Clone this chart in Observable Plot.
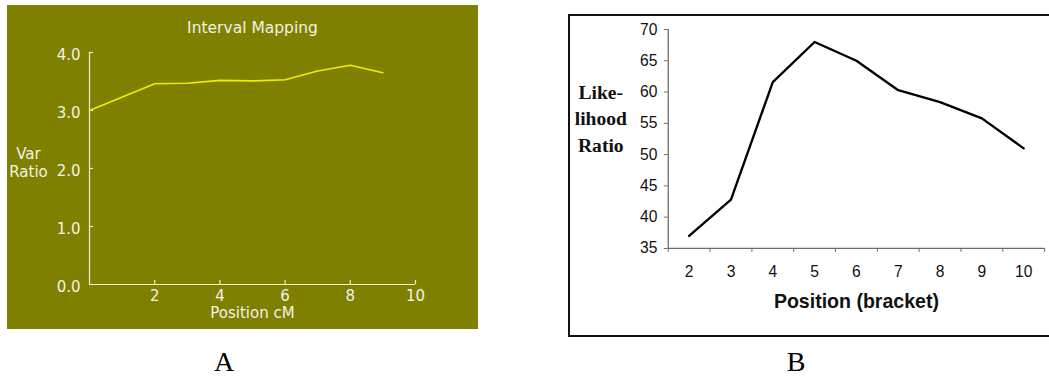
<!DOCTYPE html>
<html>
<head>
<meta charset="utf-8">
<script src="https://cdn.jsdelivr.net/npm/d3@7"></script>
<script src="https://cdn.jsdelivr.net/npm/@observablehq/plot@0.6"></script>
<style>
  html, body { margin: 0; padding: 0; background: #fff; }
  #root { position: relative; width: 1049px; height: 379px; overflow: hidden; background: #fff; }
  #panelA { position: absolute; left: 7px; top: 5px; width: 471px; height: 324px; background: #808000; }
  #panelA svg { position: absolute; left: 0; top: 0; }
  #boxB { position: absolute; left: 568px; top: 14px; width: 600px; height: 323px; border: 2px solid #111; box-sizing: border-box; }
  #plotB { position: absolute; left: 570px; top: 16px; }
  .lab { position: absolute; font-family: "Liberation Serif", "DejaVu Serif", serif; font-size: 28px; color: #000; line-height: 1.1; transform: translateX(-50%); }
</style>
</head>
<body>
<div id="root">
  <div id="panelA"></div>
  <div id="boxB"></div>
  <div id="plotB"></div>
  <div class="lab" style="left:224px; top:347px;">A</div>
  <div class="lab" style="left:796px; top:347px;">B</div>
</div>
<script>
// ---- Panel A data (Interval Mapping) ----
const aPosition = [0, 2, 3, 4, 5, 6, 7, 8, 9];
const aVarRatio = [3.0, 3.46, 3.47, 3.52, 3.51, 3.53, 3.68, 3.78, 3.65];
const aXTicks = [2, 4, 6, 8, 10];
const aYTicks = [0, 1, 2, 3, 4];

// ---- Panel B data (Likelihood ratio) ----
const bPosition = [2, 3, 4, 5, 6, 7, 8, 9, 10];
const bLikelihood = [37, 42.8, 61.6, 68, 65, 60.3, 58.4, 55.8, 51];
const bYTicks = [35, 40, 45, 50, 55, 60, 65, 70];
const bBandEdges = [1.5, 2.5, 3.5, 4.5, 5.5, 6.5, 7.5, 8.5, 9.5, 10.5];

const dataA = aPosition.map((x, i) => ({x, y: aVarRatio[i]}));
const dataB = bPosition.map((x, i) => ({x, y: bLikelihood[i]}));

// ---- Chart A ----
const WA = 471, HA = 324, mlA = 82, mrA = 63, mtA = 47, mbA = 45;
const innerWA = WA - mlA - mrA, innerHA = HA - mtA - mbA;
const axisA = "#ecece0";
const chartA = Plot.plot({
  width: WA, height: HA,
  marginLeft: mlA, marginRight: mrA, marginTop: mtA, marginBottom: mbA,
  style: {background: "transparent", color: "#f2f2e6", fontFamily: "DejaVu Sans, sans-serif", fontSize: "15px", overflow: "visible"},
  x: {domain: [0, 10]},
  y: {domain: [0, 4]},
  marks: [
    Plot.ruleY([0], {stroke: axisA, strokeWidth: 1.2}),
    Plot.ruleX([0], {stroke: axisA, strokeWidth: 1.2}),
    Plot.tickX(aXTicks, {x: d => d, stroke: axisA, strokeWidth: 1.2, insetTop: innerHA - 4}),
    Plot.tickY(aYTicks, {y: d => d, stroke: axisA, strokeWidth: 1.2, insetRight: innerWA - 4}),
    Plot.axisX(aXTicks, {tickSize: 0, tickPadding: 6, label: null, tickFormat: d => String(d)}),
    Plot.axisY(aYTicks, {tickSize: 0, tickPadding: 9, dy: 3, label: null, tickFormat: d => d.toFixed(1)}),
    Plot.line(dataA, {x: "x", y: "y", stroke: "#eeee00", strokeWidth: 1.6}),
    Plot.text(["Interval Mapping"], {frameAnchor: "top", lineAnchor: "middle", textAnchor: "middle", dy: 23 - mtA, fontSize: 15.5}),
    Plot.text(["Position cM"], {frameAnchor: "bottom", lineAnchor: "middle", textAnchor: "middle", dy: 29}),
    Plot.text(["Var\nRatio"], {frameAnchor: "left", lineAnchor: "middle", textAnchor: "middle", dx: 21 - mlA, dy: -6, lineHeight: 1.2})
  ]
});
document.getElementById("panelA").appendChild(chartA);

// ---- Chart B ----
const WB = 490, HB = 320, mlB = 100, mrB = 5, mtB = 13.3, mbB = 82.7;
const axisB = "#6a6a6a";
const chartB = Plot.plot({
  width: WB, height: HB,
  marginLeft: mlB, marginRight: mrB, marginTop: mtB, marginBottom: mbB,
  style: {background: "transparent", color: "#111", fontFamily: "Liberation Sans, Arial, sans-serif", fontSize: "16px", overflow: "visible"},
  x: {domain: [1.5, 10.5]},
  y: {domain: [35, 70]},
  marks: [
    Plot.ruleY([35], {stroke: axisB, strokeWidth: 1.3}),
    Plot.ruleX([1.5], {stroke: axisB, strokeWidth: 1.3}),
    Plot.axisY(bYTicks, {tickSize: 4, tickPadding: 0, stroke: axisB, tickFormat: () => "", label: null}),
    Plot.axisY(bYTicks, {tickSize: 0, tickPadding: 11, label: null, fill: "#111", fontSize: 16}),
    Plot.axisX(bBandEdges, {tickSize: 4, tickPadding: 0, stroke: axisB, tickFormat: () => "", label: null}),
    Plot.axisX(bPosition, {tickSize: 0, tickPadding: 18, label: null, fill: "#111", fontSize: 16}),
    Plot.line(dataB, {x: "x", y: "y", stroke: "#000", strokeWidth: 2.4}),
    Plot.text(["Position (bracket)"], {frameAnchor: "bottom", lineAnchor: "middle", textAnchor: "middle", dy: 55, fontSize: 20, fontWeight: "bold"}),
    Plot.text(["Like-\nlihood\nRatio"], {frameAnchor: "left", lineAnchor: "middle", textAnchor: "middle", dx: 31 - mlB, dy: -22.6, lineHeight: 1.35, fontSize: 20, fontWeight: "bold", fontFamily: "Liberation Serif, serif"})
  ]
});
document.getElementById("plotB").appendChild(chartB);
</script>
</body>
</html>
